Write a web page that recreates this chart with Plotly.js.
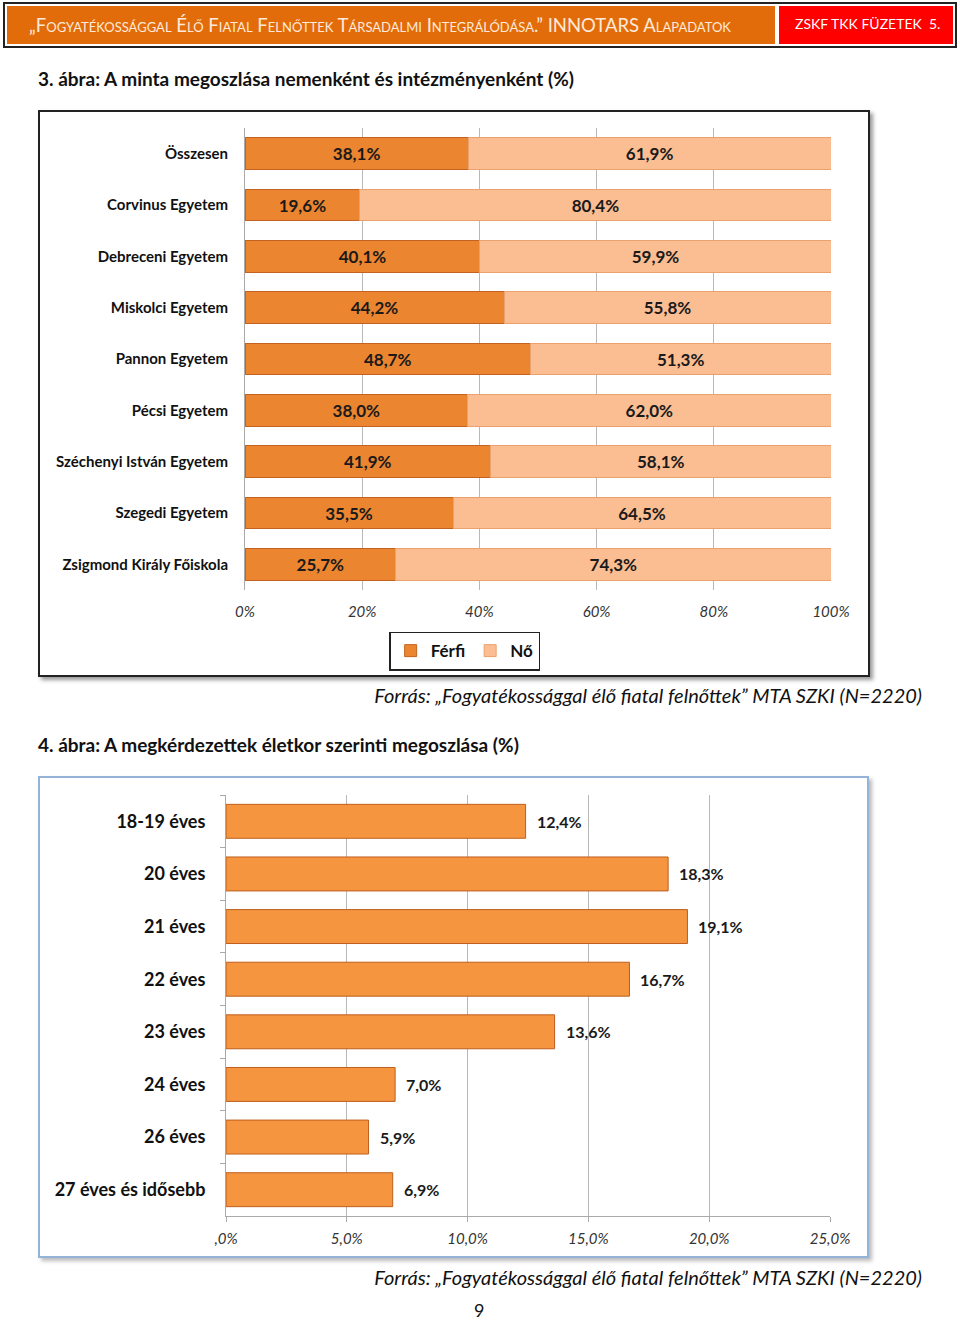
<!DOCTYPE html>
<html>
<head>
<meta charset="utf-8">
<script src="https://cdn.plot.ly/plotly-3.0.1.min.js"></script>
<style>
  body { margin: 0; background: #fff; font-family: Lato, "Open Sans", sans-serif; }
  .abs { position: absolute; }
  #header { left: 3px; top: 2px; width: 950px; height: 42px; border: 2px solid #222; }
  #hleft { left: 2px; top: 2px; width: 768px; height: 38px; background: #E36C0A; color: #FDEADA;
           font-size: 18.5px; font-variant: small-caps; line-height: 38px; padding-left: 22px; box-sizing: border-box;
           white-space: nowrap; overflow: hidden; }
  #hright { left: 774px; top: 2px; width: 174px; height: 38px; background: #FF0000; color: #fff;
            font-size: 14px; line-height: 36px; padding-left: 16px; box-sizing: border-box; white-space: nowrap; }
  .ftitle { font-weight: bold; font-size: 19px; color: #111; }
  .src { font-style: italic; font-size: 20px; color: #111; text-align: right; width: 900px; }
  #c1 { left: 38px; top: 110px; width: 828px; height: 563px; border: 2px solid #222; box-shadow: 3px 3px 4px #999; }
  #c2 { left: 38px; top: 776px; width: 827px; height: 478px; border: 2px solid #95B3D7; box-shadow: 3px 3px 4px #bbb; }
</style>
</head>
<body>
<div id="header" class="abs">
  <div id="hleft" class="abs">„Fogyatékossággal Élő Fiatal Felnőttek Társadalmi Integrálódása.” INNOTARS Alapadatok</div>
  <div id="hright" class="abs">ZSKF TKK FÜZETEK&nbsp; 5.</div>
</div>
<div class="abs ftitle" style="left:38px; top:67px;">3. ábra: A minta megoszlása nemenként és intézményenként (%)</div>
<div id="c1" class="abs"></div>
<div class="abs src" style="left:22px; top:683px;">Forrás: „Fogyatékossággal élő fiatal felnőttek” MTA SZKI (N=2220)</div>
<div class="abs ftitle" style="left:38px; top:733px;">4. ábra: A megkérdezettek életkor szerinti megoszlása (%)</div>
<div id="c2" class="abs"></div>
<div class="abs src" style="left:22px; top:1265px;">Forrás: „Fogyatékossággal élő fiatal felnőttek” MTA SZKI (N=2220)</div>
<div class="abs" style="left:474px; top:1299px; font-size:18px; color:#111;">9</div>
<script>
// 3. ábra
const institutions = ["Összesen", "Corvinus Egyetem", "Debreceni Egyetem", "Miskolci Egyetem",
  "Pannon Egyetem", "Pécsi Egyetem", "Széchenyi István Egyetem", "Szegedi Egyetem", "Zsigmond Király Főiskola"];
const ferfi = [38.1, 19.6, 40.1, 44.2, 48.7, 38.0, 41.9, 35.5, 25.7];
const no = [61.9, 80.4, 59.9, 55.8, 51.3, 62.0, 58.1, 64.5, 74.3];

// 4. ábra
const ageGroups = ["18-19 éves", "20 éves", "21 éves", "22 éves", "23 éves", "24 éves", "26 éves", "27 éves és idősebb"];
const ageShare = [12.4, 18.3, 19.1, 16.7, 13.6, 7.0, 5.9, 6.9];
const ageTicks = [0, 5, 10, 15, 20, 25];
const ageTickText = [",0%", "5,0%", "10,0%", "15,0%", "20,0%", "25,0%"];

const font = "Lato, 'Open Sans', sans-serif";
const barText = {family: font, size: 17, color: "#1a1a1a", weight: "bold"};

let trace1 = {
  name: "Férfi", type: "bar", orientation: "h",
  x: ferfi, y: institutions,
  marker: {color: "#EB8530", line: {color: "#C2631F", width: 1}},
  texttemplate: "%{x:.1f}%", textposition: "inside", insidetextanchor: "middle",
  textfont: barText, hoverinfo: "x+y",
};
let trace2 = {
  name: "Nő", type: "bar", orientation: "h",
  x: no, y: institutions,
  marker: {color: "#FBBD92", line: {color: "#E9A16F", width: 1}},
  texttemplate: "%{x:.1f}%", textposition: "inside", insidetextanchor: "middle",
  textfont: barText, hoverinfo: "x+y",
};

let layout1 = {
  width: 828, height: 563,
  margin: {l: 205, r: 37, t: 16, b: 85, autoexpand: false},
  barmode: "stack", bargap: 0.38,
  separators: ",.",
  font: {family: font, color: "#222"},
  showlegend: true,
  legend: {
    orientation: "h", x: 0.246, y: -0.09, xanchor: "left", yanchor: "top",
    bordercolor: "#222", borderwidth: 1.5, itemwidth: 30,
    font: {family: font, size: 17, color: "#111", weight: "bold"},
    traceorder: "normal",
  },
  xaxis: {
    range: [0, 100], dtick: 20, ticksuffix: "%",
    showgrid: true, gridcolor: "#b8b8b8", zeroline: false,
    ticks: "outside", ticklen: 8, tickcolor: "rgba(0,0,0,0)",
    tickfont: {family: font, size: 15, color: "#333", style: "italic"},
    fixedrange: true,
  },
  yaxis: {
    autorange: "reversed", showline: true, linecolor: "#aaa", linewidth: 1,
    ticks: "", ticklabelstandoff: 13,
    tickfont: {family: font, size: 15, color: "#111", weight: "bold"},
    fixedrange: true,
  },
  plot_bgcolor: "#fff", paper_bgcolor: "#fff",
};

Plotly.newPlot("c1", [trace1, trace2], layout1, {displayModeBar: false, staticPlot: true});

let trace3 = {
  type: "bar", orientation: "h",
  x: ageShare, y: ageGroups,
  marker: {color: "#F5953F", line: {color: "#BE5F1E", width: 1}},
  hoverinfo: "x+y",
};

// value labels just past the bar ends
let ageLabels = ageShare.map((v, i) => ({
  x: v, y: ageGroups[i], xref: "x", yref: "y",
  text: v.toFixed(1).replace(".", ",") + "%",
  xanchor: "left", xshift: 9, showarrow: false,
  font: {family: font, size: 16, color: "#1a1a1a", weight: "bold"},
}));

let layout2 = {
  width: 827, height: 478,
  margin: {l: 186, r: 37, t: 17, b: 40},
  bargap: 0.355,
  separators: ",.",
  font: {family: font, color: "#222"},
  showlegend: false,
  annotations: ageLabels,
  xaxis: {
    range: [0, 25], tickvals: ageTicks, ticktext: ageTickText,
    showgrid: true, gridcolor: "#b8b8b8", zeroline: false,
    showline: true, linecolor: "#aaa",
    ticks: "outside", ticklen: 5, tickcolor: "#aaa", ticklabelstandoff: 4,
    tickfont: {family: font, size: 15, color: "#333", style: "italic"},
    fixedrange: true,
  },
  yaxis: {
    autorange: "reversed", showline: true, linecolor: "#aaa", linewidth: 1,
    ticks: "outside", tickson: "boundaries", ticklen: 5, tickcolor: "#aaa",
    ticklabelstandoff: 16,
    tickfont: {family: font, size: 18, color: "#111", weight: "bold"},
    fixedrange: true,
  },
  plot_bgcolor: "#fff", paper_bgcolor: "#fff",
};

Plotly.newPlot("c2", [trace3], layout2, {displayModeBar: false, staticPlot: true});
</script>
</body>
</html>
